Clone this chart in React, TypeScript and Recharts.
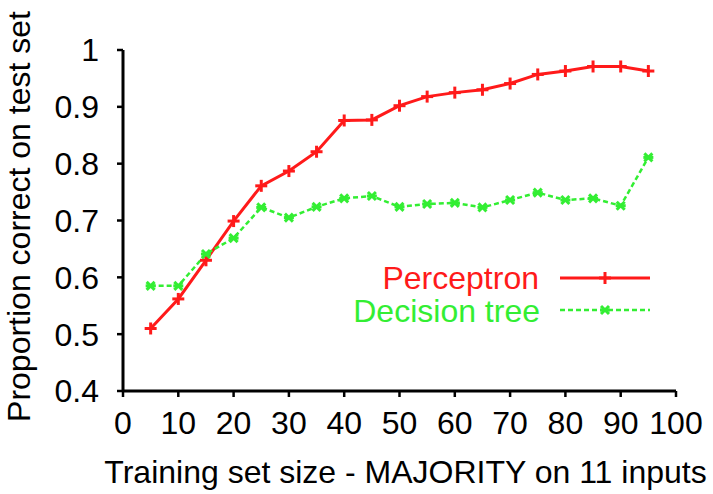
import { LineChart, Line, XAxis, YAxis } from 'recharts';

const sizes = [5, 10, 15, 20, 25, 30, 35, 40, 45, 50, 55, 60, 65, 70, 75, 80, 85, 90, 95];
const perceptron = [0.51, 0.562, 0.63, 0.699, 0.761, 0.787, 0.821, 0.876, 0.877, 0.902, 0.918, 0.925, 0.93, 0.941, 0.957, 0.963, 0.971, 0.971, 0.963];
const decisionTree = [0.585, 0.585, 0.641, 0.669, 0.723, 0.705, 0.724, 0.739, 0.743, 0.724, 0.729, 0.731, 0.723, 0.736, 0.749, 0.736, 0.739, 0.726, 0.811];
const xTicks = [0, 10, 20, 30, 40, 50, 60, 70, 80, 90, 100];
const yTicks = [0.4, 0.5, 0.6, 0.7, 0.8, 0.9, 1];

const data = sizes.map((s, i) => ({ size: s, perceptron: perceptron[i], tree: decisionTree[i] }));

const RED = '#ff1a1a';
const GREEN = '#33ee33';
const FONT = '"Liberation Sans", Arial, sans-serif';

const PlusDot = (props: any) => {
    const { cx, cy, index } = props;
    if (cx == null || cy == null) return <g key={index}></g>;
    return (
        <g key={index} stroke={RED} strokeWidth={3}>
            <line x1={cx - 6} y1={cy} x2={cx + 6} y2={cy} />
            <line x1={cx} y1={cy - 6} x2={cx} y2={cy + 6} />
        </g>
    );
};

const CrossDot = (props: any) => {
    const { cx, cy, index } = props;
    if (cx == null || cy == null) return <g key={index}></g>;
    return (
        <g key={index} stroke={GREEN} strokeWidth={3}>
            <line x1={cx - 4} y1={cy - 4} x2={cx + 4} y2={cy + 4} />
            <line x1={cx - 4} y1={cy + 4} x2={cx + 4} y2={cy - 4} />
            <line x1={cx - 5} y1={cy} x2={cx + 5} y2={cy} />
        </g>
    );
};

const YTitle = (props: any) => {
    const vb = props.viewBox;
    const x = vb.x + 30;
    const y = vb.y + vb.height / 2 - 4;
    return (
        <text x={x} y={y} transform={`rotate(-90 ${x} ${y})`} textAnchor="middle" fill="#000" fontSize={32} fontFamily={FONT}>
            Proportion correct on test set
        </text>
    );
};

export default function App() {
    return (
        <div style={{ position: 'absolute', left: 0, top: 0, width: 713, height: 494, background: '#fff' }}>
            <LineChart width={713} height={494} data={data} margin={{ top: 50, right: 37, bottom: 0, left: 0 }}>
                <XAxis
                    dataKey="size"
                    type="number"
                    domain={[0, 100]}
                    ticks={xTicks}
                    height={103}
                    tickSize={6}
                    tickMargin={14}
                    axisLine={{ stroke: '#000', strokeWidth: 3 }}
                    tickLine={{ stroke: '#000', strokeWidth: 2.5 }}
                    tick={{ fill: '#000', fontSize: 32, fontFamily: FONT }}
                    label={{ value: 'Training set size - MAJORITY on 11 inputs', position: 'insideBottom', offset: 11, dx: 6, fill: '#000', fontSize: 32, fontFamily: FONT }}
                />
                <YAxis
                    type="number"
                    domain={[0.4, 1]}
                    ticks={yTicks}
                    width={123}
                    tickSize={6}
                    tickMargin={18}
                    axisLine={{ stroke: '#000', strokeWidth: 3 }}
                    tickLine={{ stroke: '#000', strokeWidth: 2.5 }}
                    tick={{ fill: '#000', fontSize: 32, fontFamily: FONT }}
                    tickFormatter={(v: number) => String(v)}
                    label={{ content: YTitle }}
                />
                <Line
                    dataKey="perceptron"
                    stroke={RED}
                    strokeWidth={3}
                    dot={PlusDot}
                    activeDot={false}
                    isAnimationActive={false}
                />
                <Line
                    dataKey="tree"
                    stroke={GREEN}
                    strokeWidth={2.5}
                    strokeDasharray="5 3"
                    dot={CrossDot}
                    activeDot={false}
                    isAnimationActive={false}
                />
            </LineChart>
            <svg width={713} height={494} style={{ position: 'absolute', left: 0, top: 0, pointerEvents: 'none' }}>
                <text x={539} y={289} textAnchor="end" fill={RED} fontSize={32} fontFamily={FONT}>Perceptron</text>
                <line x1={560} y1={278} x2={650} y2={278} stroke={RED} strokeWidth={3} />
                <PlusDot cx={605} cy={278} index={0} />
                <text x={540} y={322} textAnchor="end" fill={GREEN} fontSize={32} fontFamily={FONT}>Decision tree</text>
                <line x1={560} y1={310} x2={650} y2={310} stroke={GREEN} strokeWidth={2.5} strokeDasharray="5 3" />
                <CrossDot cx={605} cy={310} index={1} />
            </svg>
        </div>
    );
}
